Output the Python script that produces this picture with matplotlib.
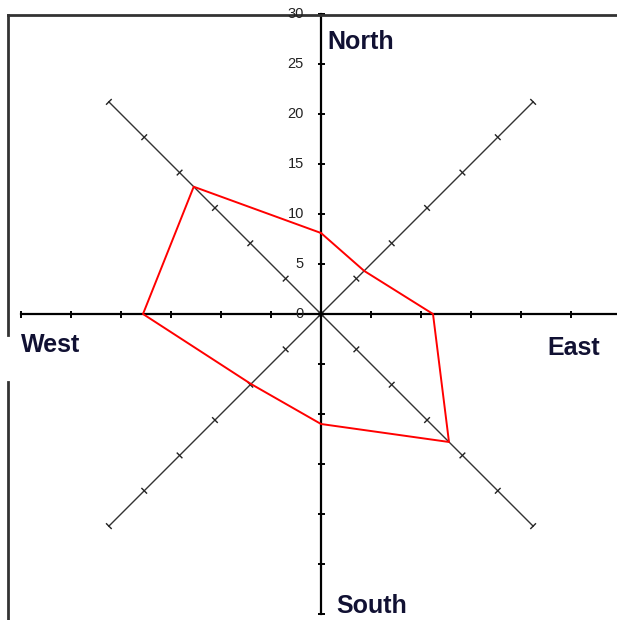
import numpy as np
import matplotlib.pyplot as plt

# wind directions, clockwise from north
directions = ["N", "NE", "E", "SE", "S", "SW", "W", "NW"]
angles_deg = [0, 45, 90, 135, 180, 225, 270, 315]
values = [8.1, 6.1, 11.2, 18.1, 11.0, 9.9, 17.8, 18.0]

tick_values = [0, 5, 10, 15, 20, 25, 30]
axis_len = 30

fig = plt.figure(figsize=(6.17, 6.20), dpi=100)
ax = fig.add_axes([0, 0, 1, 1])
ax.set_xlim(-32.1, 29.6)
ax.set_ylim(-30.6, 31.4)
ax.axis("off")


def tick_marks(dx, dy, color, lw, half=0.4):
    # perpendicular ticks along direction (dx, dy) every 5 units, both sides
    px, py = -dy, dx
    for t in range(-axis_len, axis_len + 1, 5):
        cx, cy = t * dx, t * dy
        ax.plot([cx - half * px, cx + half * px], [cy - half * py, cy + half * py],
                color=color, lw=lw, solid_capstyle="butt")


# diagonal axes
s = 1 / np.sqrt(2)
for dx, dy in [(s, s), (s, -s)]:
    ax.plot([-axis_len * dx, axis_len * dx], [-axis_len * dy, axis_len * dy],
            color="#333333", lw=1.0)
    tick_marks(dx, dy, "#222222", 1.0, 0.4)

# main axes
ax.plot([-axis_len, axis_len], [0, 0], color="black", lw=1.6)
ax.plot([0, 0], [-axis_len, axis_len], color="black", lw=1.6)
tick_marks(1, 0, "black", 1.4, 0.35)
tick_marks(0, 1, "black", 1.4, 0.35)

# tick labels on north axis
for v in tick_values:
    ax.text(-1.7, v, str(v), ha="right", va="center", fontsize=10.5,
            family="Liberation Sans", color="#222222")

# frame (top and left edges)
ax.plot([-31.3, 30.5], [29.9, 29.9], color="#333333", lw=2.0)
ax.plot([-31.3, -31.3], [29.9, -2.1], color="#333333", lw=2.0)
ax.plot([-31.3, -31.3], [-6.8, -31], color="#333333", lw=2.0)

# data polygon
theta = np.deg2rad(angles_deg + [angles_deg[0]])
r = np.array(values + [values[0]])
ax.plot(r * np.sin(theta), r * np.cos(theta), color="red", lw=1.4)

# compass labels
lab = dict(fontsize=18, fontweight="bold", family="Liberation Sans",
           color="#111133", va="baseline", ha="left")
ax.text(0.6, 26.5, "North", **lab)
ax.text(-30.0, -3.8, "West", **lab)
ax.text(22.6, -4.1, "East", **lab)
ax.text(1.5, -29.9, "South", **lab)

fig.savefig("out.png", dpi=100)
